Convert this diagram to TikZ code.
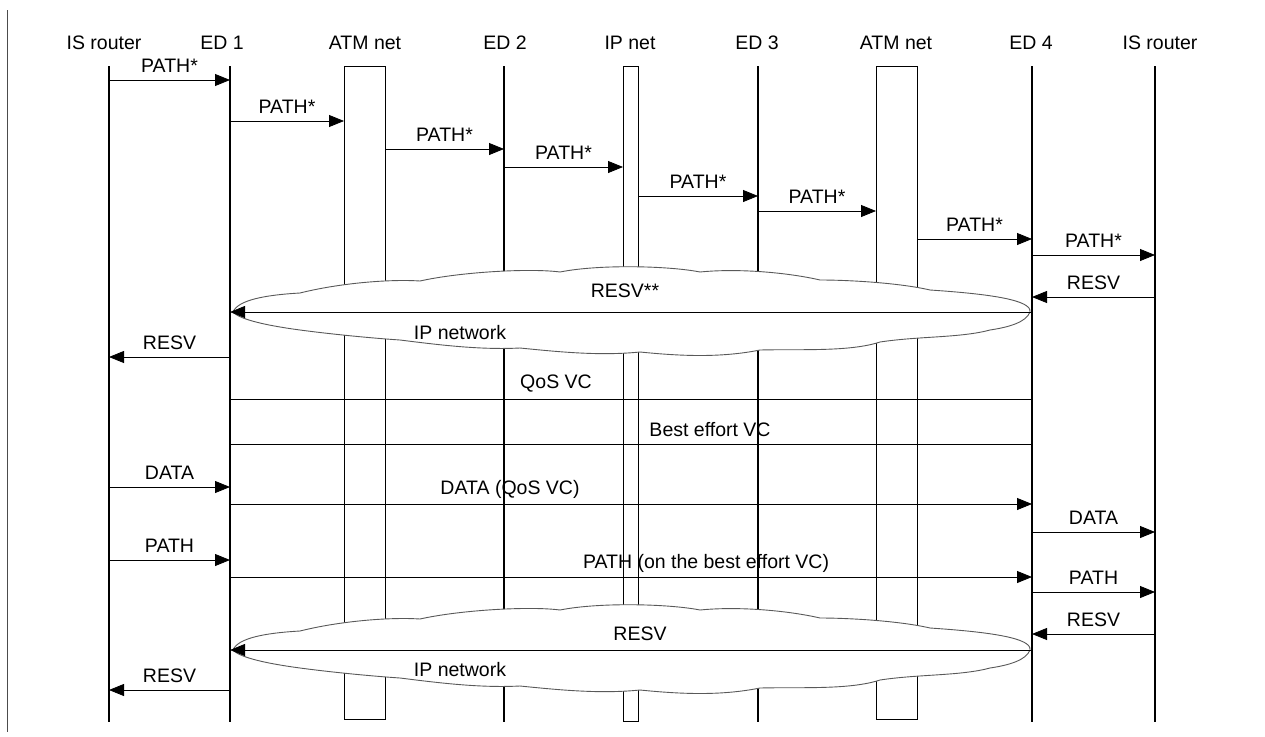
\documentclass[tikz,border=0pt]{standalone}
\usepackage{fontspec}
\setmainfont{Liberation Sans}
\usetikzlibrary{arrows.meta,calc}
\newcommand\msg[5][]{%
  \draw[msgline,#1] (#2 |- 0,#4) -- (#3 |- 0,#4)
    node[lbl, pos=0.5, above=6pt] {#5};}
\newcommand\cloudshape{%
  (233,312)
  .. controls (238,300) and (265,295) .. (300,293)
  .. controls (340,283) and (390,279) .. (420,281)
  .. controls (460,272) and (530,268) .. (560,272)
  .. controls (600,264) and (670,266) .. (700,272)
  .. controls (740,268) and (790,273) .. (820,280)
  .. controls (850,280) and (900,283) .. (930,290)
  .. controls (990,294) and (1032,300) .. (1030,312)
  .. controls (1026,322) and (1010,327) .. (990,330)
  .. controls (960,338) and (920,336) .. (880,342)
  .. controls (850,352) and (800,349) .. (760,350)
  .. controls (720,358) and (680,356) .. (640,352)
  .. controls (600,356) and (560,352) .. (520,348)
  .. controls (480,350) and (440,345) .. (400,340)
  .. controls (370,338) and (330,334) .. (300,330)
  .. controls (270,326) and (240,320) .. cycle}
\begin{document}
\begin{tikzpicture}[x=1pt,y=-1pt,
  life/.style={line width=1.1pt},
  boxline/.style={line width=0.9pt},
  msgline/.style={line width=0.8pt},
  arr/.style={-{Triangle[length=15pt,width=12pt]}},
  lbl/.style={font=\fontsize{19.5}{22}\selectfont, inner sep=1pt},
  cloudsty/.style={draw=black!65, line width=0.9pt, fill=white}]
\useasboundingbox (0,0) rectangle (1265,736);
\fill[white] (0,0) rectangle (1265,736);
% left margin line
\draw[line width=0.6pt, black!70] (7,10) -- (7,732);
% headers
\node[lbl] (h1) at (104,43) {IS router};
\node[lbl] (h2) at (222,43) {ED 1};
\node[lbl] (h3) at (365,43) {ATM net};
\node[lbl] (h4) at (505,43) {ED 2};
\node[lbl] (h5) at (630,43) {IP net};
\node[lbl] (h6) at (757,43) {ED 3};
\node[lbl] (h7) at (896,43) {ATM net};
\node[lbl] (h8) at (1031,43) {ED 4};
\node[lbl] (h9) at (1160,43) {IS router};
% lifeline coordinates
\coordinate (L1) at (109,66);
\coordinate (L2) at (230,66);
\coordinate (A1l) at (344,66);
\coordinate (A1r) at (385,66);
\coordinate (L4) at (504,66);
\coordinate (Pl) at (623,66);
\coordinate (Pr) at (638,66);
\coordinate (L6) at (758,66);
\coordinate (A2l) at (876,66);
\coordinate (A2r) at (917,66);
\coordinate (L8) at (1032,66);
\coordinate (L9) at (1155,66);
\foreach \c in {L1,L2,L4,L6,L8,L9}
  \draw[life] (\c) -- (\c |- 0,722);
\draw[boxline] (A1l) rectangle (A1r |- 0,719);
\draw[boxline] (Pl) rectangle (Pr |- 0,721);
\draw[boxline] (A2l) rectangle (A2r |- 0,719);
% clouds
\path[cloudsty] \cloudshape;
\begin{scope}[shift={(0,338)}]
\path[cloudsty] \cloudshape;
\end{scope}
% PATH* sequence
\msg[arr]{L1}{L2}{80}{PATH*}
\msg[arr]{L2}{A1l}{121}{PATH*}
\msg[arr]{A1r}{L4}{149}{PATH*}
\msg[arr]{L4}{Pl}{167}{PATH*}
\msg[arr]{Pr}{L6}{196}{PATH*}
\msg[arr]{L6}{A2l}{211}{PATH*}
\msg[arr]{A2r}{L8}{239}{PATH*}
\msg[arr]{L8}{L9}{255}{PATH*}
\msg[arr]{L9}{L8}{297}{RESV}
% RESV** through IP network
\draw[msgline,arr] (L8 |- 0,312) -- (L2 |- 0,312);
\node[lbl] (r2) at (625,291) {RESV**};
\node[lbl] (ip1) at (460,333) {IP network};
\msg[arr]{L2}{L1}{357}{RESV}
% VCs
\draw[msgline] (L2 |- 0,399) -- (L8 |- 0,399);
\node[lbl] (qos) at (556,384) {QoS VC};
\draw[msgline] (L2 |- 0,444) -- (L8 |- 0,444);
\node[lbl] (be) at (710,430) {Best effort VC};
% data & path
\msg[arr]{L1}{L2}{487}{DATA}
\draw[msgline,arr] (L2 |- 0,504) -- (L8 |- 0,504);
\node[lbl] (dq) at (510,489) {DATA (QoS VC)};
\msg[arr]{L8}{L9}{532}{DATA}
\msg[arr]{L1}{L2}{560}{PATH}
\draw[msgline,arr] (L2 |- 0,577) -- (L8 |- 0,577);
\node[lbl] (pb) at (706,563) {PATH (on the best effort VC)};
\msg[arr]{L8}{L9}{592}{PATH}
\msg[arr]{L9}{L8}{634}{RESV}
\draw[msgline,arr] (L8 |- 0,650) -- (L2 |- 0,650);
\node[lbl] (r3) at (640,634) {RESV};
\node[lbl] (ip2) at (460,670) {IP network};
\msg[arr]{L2}{L1}{690}{RESV}
\end{tikzpicture}
\end{document}
